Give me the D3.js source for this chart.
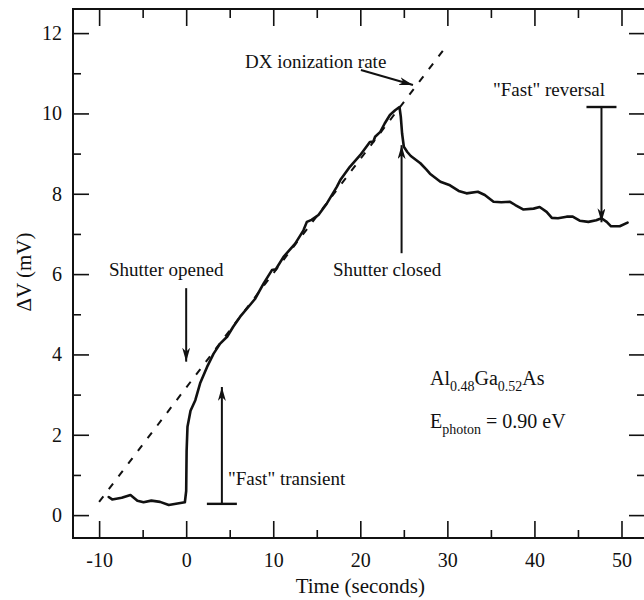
<!DOCTYPE html>
<html>
<head>
<meta charset="utf-8">
<script src="https://cdn.jsdelivr.net/npm/d3@7"></script>
<style>
  body { margin: 0; background: #fff; }
</style>
</head>
<body>
<div id="chart"></div>
<script>
// measured trace: time (s) and delta V (mV)
var timeS = [-8.9, -8.5, -7.4, -6.4, -5.6, -4.9, -4.0, -3.0, -2.0, -1.0, -0.15,
  0.0, 0.05, 0.15, 0.5, 1.05, 1.6, 2.4, 3.15, 3.9, 4.7, 5.4, 6.2, 7.4, 7.9,
  8.9, 9.85, 10.3, 11.18, 12.52, 13.47, 13.86, 14.4, 15.19, 16.16, 17.3, 17.7,
  18.8, 19.98, 21.1, 21.5, 21.7, 22.3, 22.8, 23.4, 24.0, 24.5, 24.65, 24.8,
  25.0, 25.4, 25.8, 26.9, 27.6, 28.0, 29.2, 30.3, 31.3, 32.2, 33.5, 34.3,
  35.3, 36.2, 37.2, 37.8, 38.7, 39.9, 40.6, 41.4, 42.0, 42.7, 43.7, 44.4,
  45.2, 46.2, 47.1, 47.7, 48.3, 48.8, 49.8, 50.7];
var deltaV = [0.45, 0.39, 0.43, 0.50, 0.36, 0.32, 0.36, 0.33, 0.25, 0.29, 0.32,
  0.6, 1.6, 2.2, 2.6, 2.86, 3.28, 3.69, 4.02, 4.27, 4.44, 4.69, 4.94, 5.25, 5.38,
  5.77, 6.1, 6.12, 6.43, 6.76, 7.09, 7.3, 7.35, 7.47, 7.76, 8.17, 8.34,
  8.67, 8.96, 9.29, 9.3, 9.42, 9.54, 9.75, 9.96, 10.08, 10.16, 9.92, 9.5,
  9.17, 9.04, 8.94, 8.76, 8.6, 8.5, 8.3, 8.21, 8.07, 8.01, 8.05, 7.97,
  7.8, 7.79, 7.8, 7.72, 7.61, 7.63, 7.67, 7.55, 7.4, 7.39, 7.43, 7.43,
  7.33, 7.3, 7.34, 7.39, 7.3, 7.19, 7.19, 7.28];

// extrapolated DX ionization rate (dashed)
var rateT = [-10, 29.8];
var rateV = [0.33, 11.65];

var xTicks = [-10, 0, 10, 20, 30, 40, 50];
var xMinor = [-5, 5, 15, 25, 35, 45];
var yTicks = [0, 2, 4, 6, 8, 10, 12];
var yMinor = [1, 3, 5, 7, 9, 11];

// annotations (data coordinates)
var labels = [
  { text: "DX ionization rate", t: 6.75, v: 11.13 },
  { text: "Shutter opened", t: -8.87, v: 5.95 },
  { text: "Shutter closed", t: 16.86, v: 5.95 },
  { text: "\"Fast\" reversal", t: 35.24, v: 10.43 },
  { text: "\"Fast\" transient", t: 4.8, v: 0.75 }
];
var arrows = [
  { t0: 20.07, v0: 11.08, t1: 26.05, v1: 10.71 },
  { t0: 0, v0: 5.65, t1: 0, v1: 3.82 },
  { t0: 24.74, v0: 6.52, t1: 24.74, v1: 9.21 },
  { t0: 47.7, v0: 10.16, t1: 47.7, v1: 7.29 },
  { t0: 4.1, v0: 0.28, t1: 4.1, v1: 3.19 }
];
var bars = [
  { t: 47.7, v: 10.16 },
  { t: 4.1, v: 0.28 }
];

var W = 644, H = 600;
var font = "'Liberation Serif','Times New Roman',Times,serif";
var ink = "#111";

var x = d3.scaleLinear().domain([-13, 52.7]).range([73, 645]);
var y = d3.scaleLinear().domain([-0.57, 12.6]).range([538, 9]);

var svg = d3.select("#chart").append("svg")
  .attr("width", W).attr("height", H)
  .style("font-family", font);

var defs = svg.append("defs");
defs.append("marker")
  .attr("id", "ah")
  .attr("viewBox", "0 0 14 8")
  .attr("refX", 14).attr("refY", 4)
  .attr("markerWidth", 14).attr("markerHeight", 8)
  .attr("markerUnits", "userSpaceOnUse")
  .attr("orient", "auto")
  .append("path")
  .attr("d", "M0,0 L14,4 L0,8 L4,4 Z")
  .attr("fill", ink);

var fmt = function (d) { return String(d); };

// axes: ticks point inward on all four sides
svg.append("g").attr("class", "ax").attr("transform", "translate(0,538)")
  .call(d3.axisBottom(x).tickValues(xTicks).tickSize(-17).tickPadding(15).tickFormat(fmt));
svg.append("g").attr("class", "ax").attr("transform", "translate(0,538)")
  .call(d3.axisBottom(x).tickValues(xMinor).tickSize(-8).tickFormat(""));
svg.append("g").attr("class", "ax").attr("transform", "translate(0,9)")
  .call(d3.axisTop(x).tickValues(xTicks).tickSize(-17).tickFormat(""));
svg.append("g").attr("class", "ax").attr("transform", "translate(0,9)")
  .call(d3.axisTop(x).tickValues(xMinor).tickSize(-9).tickFormat(""));
svg.append("g").attr("class", "ax").attr("transform", "translate(73,0)")
  .call(d3.axisLeft(y).tickValues(yTicks).tickSize(-16).tickPadding(11).tickFormat(fmt));
svg.append("g").attr("class", "ax").attr("transform", "translate(73,0)")
  .call(d3.axisLeft(y).tickValues(yMinor).tickSize(-8).tickFormat(""));
svg.append("g").attr("class", "ax").attr("transform", "translate(645,0)")
  .call(d3.axisRight(y).tickValues(yTicks).tickSize(-16).tickFormat(""));
svg.append("g").attr("class", "ax").attr("transform", "translate(645,0)")
  .call(d3.axisRight(y).tickValues(yMinor).tickSize(-8).tickFormat(""));

svg.selectAll(".ax .domain").remove();
svg.selectAll(".ax line").attr("stroke", ink).attr("stroke-width", 1.6);
svg.selectAll(".ax text")
  .attr("fill", ink)
  .style("font-family", font)
  .style("font-size", "20px");

// frame
svg.append("rect")
  .attr("x", 73).attr("y", 9)
  .attr("width", 645 - 73).attr("height", 538 - 9)
  .attr("fill", "none").attr("stroke", ink).attr("stroke-width", 2);

// axis titles
svg.append("text")
  .attr("x", x(20)).attr("y", 593)
  .attr("text-anchor", "middle")
  .style("font-size", "21px").attr("fill", ink)
  .text("Time (seconds)");
svg.append("text")
  .attr("transform", "translate(31," + 272 + ") rotate(-90)")
  .attr("text-anchor", "middle")
  .style("font-size", "21px").attr("fill", ink)
  .text("\u0394V (mV)");

// dashed extrapolation
svg.append("path")
  .datum(d3.zip(rateT, rateV))
  .attr("d", d3.line().x(function (d) { return x(d[0]); }).y(function (d) { return y(d[1]); }))
  .attr("fill", "none").attr("stroke", ink)
  .attr("stroke-width", 2).attr("stroke-dasharray", "7,9");

// measured trace
svg.append("path")
  .datum(d3.zip(timeS, deltaV))
  .attr("d", d3.line().x(function (d) { return x(d[0]); }).y(function (d) { return y(d[1]); }))
  .attr("fill", "none").attr("stroke", ink)
  .attr("stroke-width", 2.6)
  .attr("stroke-linejoin", "round").attr("stroke-linecap", "round");

// arrows
svg.selectAll(".arrow").data(arrows).enter().append("line")
  .attr("class", "arrow")
  .attr("x1", function (d) { return x(d.t0); })
  .attr("y1", function (d) { return y(d.v0); })
  .attr("x2", function (d) { return x(d.t1); })
  .attr("y2", function (d) { return y(d.v1); })
  .attr("stroke", ink).attr("stroke-width", 2)
  .attr("marker-end", "url(#ah)");

svg.selectAll(".bar").data(bars).enter().append("line")
  .attr("class", "bar")
  .attr("x1", function (d) { return x(d.t) - 15; })
  .attr("x2", function (d) { return x(d.t) + 15; })
  .attr("y1", function (d) { return y(d.v); })
  .attr("y2", function (d) { return y(d.v); })
  .attr("stroke", ink).attr("stroke-width", 2.4);

// text labels
svg.selectAll(".lbl").data(labels).enter().append("text")
  .attr("class", "lbl")
  .attr("x", function (d) { return x(d.t); })
  .attr("y", function (d) { return y(d.v); })
  .style("font-size", "19px").attr("fill", ink)
  .text(function (d) { return d.text; });

// material and photon energy
var mat = svg.append("text")
  .attr("x", x(28)).attr("y", y(3.24))
  .style("font-size", "20px").attr("fill", ink);
mat.append("tspan").text("Al");
mat.append("tspan").attr("dy", 6).style("font-size", "14px").text("0.48");
mat.append("tspan").attr("dy", -6).text("Ga");
mat.append("tspan").attr("dy", 6).style("font-size", "14px").text("0.52");
mat.append("tspan").attr("dy", -6).text("As");

var eph = svg.append("text")
  .attr("x", x(28)).attr("y", y(2.17))
  .style("font-size", "20px").attr("fill", ink);
eph.append("tspan").text("E");
eph.append("tspan").attr("dy", 6).style("font-size", "14px").text("photon");
eph.append("tspan").attr("dy", -6).text(" = 0.90 eV");
</script>
</body>
</html>
